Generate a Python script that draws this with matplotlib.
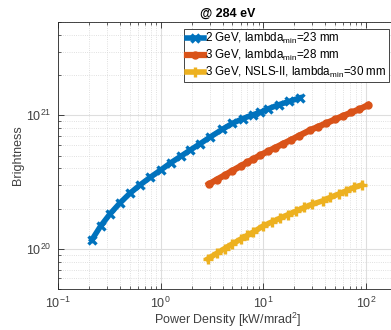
# -*- coding: utf-8 -*-
"""Brightness versus power density at 284 eV."""
import matplotlib
matplotlib.use('Agg')
# pylint: disable=wrong-import-position
import matplotlib.pyplot
import matplotlib.ticker

# 2 GeV, lambda_min = 23 mm
pd_2gev = [0.214, 0.26, 0.32, 0.40, 0.50, 0.63, 0.79, 1.0, 1.26, 1.58, 1.93,
           2.4, 3.0, 3.98, 5.0, 6.3, 7.9, 9.3, 11.2, 14.1, 17.8, 22.7]
br_2gev = [1.17e20, 1.48e20, 1.82e20, 2.20e20, 2.60e20, 3.01e20, 3.43e20,
           3.89e20, 4.42e20, 4.95e20, 5.48e20, 6.10e20, 6.84e20, 7.85e20,
           8.71e20, 9.44e20, 1.01e21, 1.05e21, 1.12e21, 1.20e21, 1.27e21,
           1.35e21]

# 3 GeV, lambda_min = 28 mm
pd_3gev = [2.95, 3.5, 4.2, 5.0, 6.0, 7.0, 8.0, 9.3, 11, 13, 15.5, 18.5, 22,
           28.4, 34, 41, 50, 60, 72, 86, 104]
br_3gev = [3.05e20, 3.29e20, 3.56e20, 3.85e20, 4.16e20, 4.45e20, 4.71e20,
           5.02e20, 5.36e20, 5.71e20, 6.11e20, 6.53e20, 7.00e20, 7.73e20,
           8.20e20, 8.73e20, 9.33e20, 9.91e20, 1.05e21, 1.11e21, 1.19e21]

# 3 GeV, NSLS-II, lambda_min = 30 mm
pd_nsls = [2.89, 3.5, 4.2, 5.0, 6.0, 7.0, 8.0, 9.9, 12, 14.5, 17.5, 21, 25,
           30, 38, 45, 54, 64, 76, 91]
br_nsls = [8.41e19, 9.23e19, 1.005e20, 1.089e20, 1.18e20, 1.262e20, 1.337e20,
           1.48e20, 1.585e20, 1.694e20, 1.807e20, 1.923e20, 2.04e20, 2.16e20,
           2.29e20, 2.43e20, 2.57e20, 2.72e20, 2.88e20, 3.01e20]

labels = [
    '2 GeV, lambda$_{min}$=23 mm',
    '3 GeV, lambda$_{min}$=28 mm',
    '3 GeV, NSLS-II, lambda$_{min}$=30 mm',
]


def main():
    """main."""
    matplotlib.rcParams['font.family'] = ['Liberation Sans', 'DejaVu Sans']
    matplotlib.rcParams['mathtext.fontset'] = 'custom'
    matplotlib.rcParams['mathtext.rm'] = 'Liberation Sans'
    matplotlib.rcParams['mathtext.it'] = 'Liberation Sans'
    dark = '#262626'
    label_grey = '#404040'

    fig = matplotlib.pyplot.figure(figsize=(3.91, 3.30), dpi=100)
    ax = fig.add_axes([0.1483, 0.1242, 0.8670, 0.8091])

    ax.plot(pd_2gev, br_2gev, color='#0072BD', marker='x', markersize=5.5,
            markeredgewidth=2.4, linewidth=4, label=labels[0])
    ax.plot(pd_3gev, br_3gev, color='#D95319', marker='o', markersize=5,
            linewidth=4.5, label=labels[1])
    ax.plot(pd_nsls, br_nsls, color='#EDB120', marker='+', markersize=7.5,
            markeredgewidth=2.4, linewidth=4, label=labels[2])

    ax.set_xscale('log')
    ax.set_yscale('log')
    ax.set_xlim(0.1, 200)
    ax.set_ylim(5e19, 5e21)

    ax.xaxis.set_major_locator(matplotlib.ticker.LogLocator(base=10))
    ax.grid(True, which='major', color='#dedede', linewidth=0.8)
    ax.grid(True, which='minor', color='#d6d6d6', linewidth=0.6,
            linestyle=':')
    ax.set_axisbelow(True)

    ax.tick_params(which='both', direction='in', top=True, right=True,
                   colors=dark, labelsize=9, labelcolor=label_grey)
    ax.tick_params(which='major', length=4, width=0.6, pad=5)
    ax.tick_params(which='minor', length=2.5, width=0.5)
    for spine in ax.spines.values():
        spine.set_color(dark)
        spine.set_linewidth(0.6)

    ax.set_xlabel('Power Density [kW/mrad$^2$]', fontsize=9,
                  color=label_grey, labelpad=0)
    ax.set_ylabel('Brightness', fontsize=9, color=label_grey, labelpad=1)
    ax.set_title('@ 284 eV', fontsize=9, fontweight='bold', pad=4)

    leg = ax.legend(loc='upper right', bbox_to_anchor=(389/391, 1-29/330),
                    bbox_transform=fig.transFigure, fontsize=8.4, numpoints=1,
                    handlelength=1.5, handletextpad=0.1, borderpad=0.2,
                    labelspacing=0.15, borderaxespad=0, fancybox=False,
                    framealpha=1, edgecolor='#262626')
    leg.get_frame().set_linewidth(0.6)

    fig.savefig('out.png', dpi=100)


if __name__ == '__main__':
    main()

# EOF
